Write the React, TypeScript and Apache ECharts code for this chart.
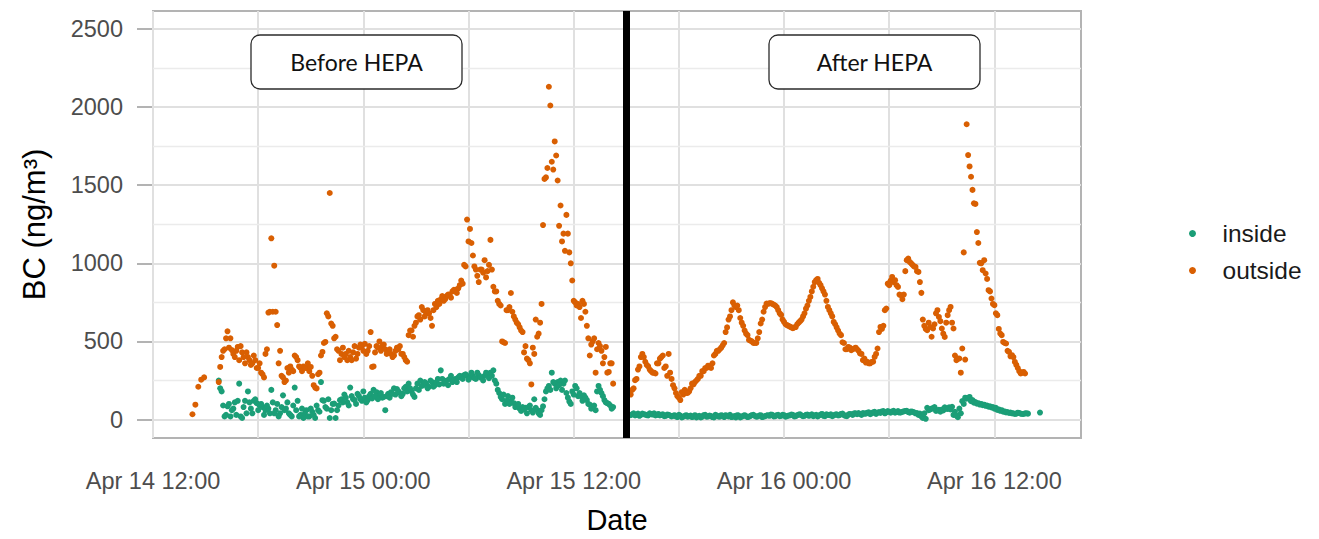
import React, { useEffect, useRef } from "react";
import * as echarts from "echarts";

// Time is expressed in hours after Apr 14 12:00; readings are every 10 minutes,
// with a second interleaved run of readings offset by 5 minutes.
const STEP_H = 1 / 6;
const HALF_STEP_H = 1 / 12;
const X_MAX_H = 52.94;
const X_TICKS = [0, 12, 24, 36, 48];
const X_TICK_LABELS = ["Apr 14 12:00", "Apr 15 00:00", "Apr 15 12:00", "Apr 16 00:00", "Apr 16 12:00"];
const X_MINOR = [6, 18, 30, 42];
const Y_TICKS = [0, 500, 1000, 1500, 2000, 2500];
const Y_MINOR = [250, 750, 1250, 1750, 2250];
const Y_MIN = -118;
const Y_MAX = 2615;
const HEPA_ON_H = 27; // Apr 15 15:00

// Outdoor black carbon (ng/m3)
const outsideStartH = 2.25;
const outsideStart = [34, 95, 210, 255, 270];

const outsideBeforeH = 3.75;
const outsideBefore = [
  240, 400, 450, 565, 520, 420, 440, 380, 430, 360,
  400, 350, 410, 330, 360, 290, 420, 685, 1160, 985,
  605, 440, 270, 250, 300, 320, 410, 380, 330, 340,
  330, 310, 280, 205, 290, 410, 490, 680, 1450, 600,
  530, 440, 420, 400, 380, 400, 430, 390, 460, 470,
  485, 440, 560, 340, 470, 500, 470, 450, 430, 420,
  410, 460, 470, 420, 380, 540, 570, 600, 660, 640,
  700, 680, 680, 600, 740, 760, 770, 760, 790, 800,
  820, 830, 840, 890, 990, 1280, 1220, 1050, 960, 880,
  960, 1020, 950, 1150, 850, 820, 740, 500, 490, 700,
  810, 660, 620, 590, 560, 470, 380, 225, 420, 530,
  620, 1245, 1550, 2130, 1650, 1780, 1530, 1370, 1190, 1310,
  1070, 890, 750, 740, 650, 740, 600, 410, 500, 300,
  490, 440, 400, 300, 360, 230,
];

const outsideBeforeMid = [
  337, 440, 520, 460, 445, 400, 465, 470, 400, 430,
  380, 360, 380, 330, 300, 270, 450, 690, 690, 690,
  360, 280, 240, 330, 340, 310, 400, 340, 310, 330,
  360, 337, 220, 199, 300, 433, 497, 660, 615, 520,
  450, 380, 460, 420, 440, 380, 470, 420, 480, 440,
  420, 470, 337, 430, 460, 440, 480, 420, 450, 400,
  440, 450, 420, 400, 370, 570, 530, 620, 668, 720,
  660, 700, 650, 700, 720, 740, 790, 770, 800, 780,
  830, 810, 860, 870, 980, 1140, 1130, 980, 920, 960,
  940, 910, 990, 960, 820, 760, 730, 495, 700, 720,
  690, 640, 610, 570, 430, 390, 360, 460, 640, 550,
  740, 1540, 1610, 2010, 1600, 1690, 1240, 1140, 1080, 1190,
  1000, 760, 730, 720, 760, 690, 520, 480, 520, 450,
  470, 360, 465, 305, 360,
];

const outsideAfterH = 27.25;
const outsideAfter = [
  160, 200, 260, 340, 420, 370, 340, 310, 300, 360,
  390, 410, 340, 420, 260, 200, 150, 125, 160, 170,
  180, 230, 240, 260, 280, 310, 330, 340, 360, 420,
  440, 460, 490, 590, 660, 750, 720, 700, 620, 570,
  540, 505, 490, 490, 560, 640, 720, 740, 745, 735,
  720, 680, 640, 610, 600, 590, 590, 610, 630, 660,
  710, 760, 820, 880, 900, 860, 820, 760, 700, 660,
  610, 570, 540, 490, 450, 460, 450, 460, 440, 420,
  390, 370, 360, 370, 420, 560, 580, 700, 870, 890,
  880, 860, 800, 770, 950, 1030, 1000, 980, 950, 880,
  640, 580, 620, 530, 610, 700, 630, 550, 620, 700,
  620, 410, 390, 300, 1070, 1890, 1620, 1470, 1380, 1130,
  1000, 1020, 900, 820, 740, 680, 580, 540, 490, 440,
  405, 400, 350, 310, 300, 295,
];

const outsideAfterMid = [
  190, 252, 320, 400, 400, 350, 320, 300, 295, 360,
  400, 330, 280, 300, 220, 170, 140, 175, 190, 170,
  200, 225, 250, 280, 310, 330, 345, 330, 410, 440,
  450, 475, 560, 640, 700, 730, 730, 650, 600, 550,
  510, 500, 490, 520, 615, 690, 743, 745, 740, 730,
  700, 670, 625, 604, 595, 585, 592, 620, 640, 680,
  730, 785, 850, 892, 875, 840, 800, 721, 680, 625,
  590, 551, 495, 450, 465, 444, 455, 450, 423, 380,
  365, 360, 369, 401, 455, 593, 600, 711, 860, 913,
  892, 849, 796, 800, 1020, 1009, 990, 977, 945, 811,
  600, 572, 593, 583, 680, 657, 583, 529, 668, 721,
  583, 380, 391, 455, 384, 1693, 1554, 1384, 1200, 1003,
  956, 935, 828, 775, 732, 668, 551, 497, 487, 433,
  412, 369, 330, 295, 305,
];

// Indoor black carbon (ng/m3)
const insideBeforeH = 3.75;
const insideBefore = [
  250, 180, 20, 85, 20, 70, 30, 230, 10, 120,
  180, 70, 120, 105, 90, 80, 60, 70, 190, 40,
  100, 40, 155, 70, 40, 20, 205, 120, 30, 10,
  60, 20, 50, 10, 60, 240, 120, 70, 10, 100,
  10, 90, 130, 160, 110, 205, 130, 100, 150, 120,
  140, 125, 165, 190, 175, 150, 140, 60, 165, 175,
  200, 195, 170, 165, 210, 230, 180, 145, 230, 250,
  220, 230, 210, 240, 220, 260, 315, 230, 250, 260,
  240, 260, 270, 275, 285, 280, 270, 280, 260, 285,
  270, 280, 290, 300, 315, 230, 170, 130, 100, 150,
  120, 105, 85, 70, 80, 75, 80, 60, 130, 60,
  30, 85, 180, 215, 300, 230, 240, 250, 230, 170,
  115, 180, 215, 150, 150, 155, 125, 95, 75, 60,
  215, 170, 125, 105, 90, 80,
];

const insideBeforeMid = [
  200, 90, 30, 100, 60, 110, 120, 20, 80, 40,
  110, 40, 130, 60, 100, 30, 90, 40, 110, 60,
  20, 80, 60, 110, 30, 90, 60, 20, 70, 40,
  20, 70, 30, 90, 50, 124, 80, 130, 60, 102,
  60, 124, 110, 140, 90, 150, 125, 165, 130, 180,
  110, 150, 135, 150, 130, 170, 145, 150, 140, 165,
  160, 180, 150, 200, 180, 200, 160, 200, 190, 215,
  240, 200, 250, 210, 240, 225, 260, 245, 220, 280,
  250, 240, 280, 260, 290, 255, 300, 265, 300, 270,
  250, 300, 265, 280, 250, 190, 145, 160, 120, 100,
  140, 80, 100, 55, 65, 40, 90, 45, 75, 40,
  60, 130, 200, 190, 240, 200, 220, 190, 250, 140,
  100, 160, 200, 170, 120, 140, 100, 70, 90, 180,
  190, 150, 110, 100, 70,
];

const insideAfterH = 27.25;
const insideAfter = [
  28, 40, 30, 24, 38, 32, 26, 36, 40, 30, 26,
  34, 24, 30, 20, 28, 16, 26, 18, 28, 22,
  16, 28, 20, 14, 28, 18, 26, 16, 30, 20,
  28, 16, 24, 30, 18, 14, 26, 18, 28, 16,
  24, 30, 18, 26, 16, 22, 28, 32, 20, 28,
  22, 30, 18, 26, 32, 20, 28, 34, 22, 30,
  24, 34, 26, 20, 32, 24, 34, 28, 22, 32,
  26, 36, 28, 22, 36, 30, 40, 42, 30, 38,
  44, 34, 46, 36, 48, 52, 40, 54, 44, 56,
  48, 45, 50, 55, 48, 52, 46, 42, 38, 10,
  5, 60, 70, 80, 60, 50, 58, 70, 78, 82,
  50, 15, 40, 100, 134, 145, 125, 112, 105, 100,
  95, 90, 85, 80, 75, 65, 60, 52, 48, 45,
  40, 38, 42, 36, 40, 38,
];

const insideAfterMid = [
  34, 26, 38, 30, 34, 28, 40, 32, 26, 36,
  30, 22, 32, 26, 24, 20, 30, 14, 24, 18,
  26, 20, 14, 24, 18, 30, 20, 22, 14, 26,
  18, 24, 28, 20, 16, 22, 28, 14, 24, 22,
  18, 28, 24, 20, 28, 18, 26, 24, 30, 22,
  30, 24, 28, 22, 26, 30, 22, 32, 26, 24,
  32, 28, 22, 30, 26, 36, 22, 30, 34, 26,
  34, 28, 38, 24, 32, 34, 40, 34, 36, 42,
  38, 46, 40, 50, 44, 42, 54, 46, 50, 52,
  44, 54, 46, 52, 56, 44, 50, 40, 30, 20,
  40, 75, 65, 72, 55, 62, 64, 78, 68, 65,
  30, 25, 70, 118, 140, 138, 118, 108, 102, 96,
  92, 88, 82, 78, 70, 62, 56, 50, 46, 42,
  40, 36, 44, 38, 36, 40,
];

const insideLateH = 50.6;
const insideLate = [45];

const COLOR_INSIDE = "#1b9e77";
const COLOR_OUTSIDE = "#d95f02";
const FONT = "Liberation Sans, Arial, Helvetica, sans-serif";

function toPoints(startH: number, values: number[]): number[][] {
  return values.map((v, i) => [startH + i * STEP_H, v]);
}

function tickLabel(v: number): string {
  const idx = X_TICKS.findIndex((t) => Math.abs(t - v) < 1e-6);
  return idx >= 0 ? X_TICK_LABELS[idx] : "";
}

const insidePoints = [
  ...toPoints(insideBeforeH, insideBefore),
  ...toPoints(insideBeforeH + HALF_STEP_H, insideBeforeMid),
  ...toPoints(insideAfterH, insideAfter),
  ...toPoints(insideAfterH + HALF_STEP_H, insideAfterMid),
  ...toPoints(insideLateH, insideLate),
];

const outsidePoints = [
  ...toPoints(outsideStartH, outsideStart),
  ...toPoints(outsideBeforeH, outsideBefore),
  ...toPoints(outsideBeforeH + HALF_STEP_H, outsideBeforeMid),
  ...toPoints(outsideAfterH, outsideAfter),
  ...toPoints(outsideAfterH + HALF_STEP_H, outsideAfterMid),
];

const majorGrid = { color: "#e0e0e0", width: 2, type: "solid" };
const minorGrid = { color: "#ebebeb", width: 1.3, type: "solid" };

const gridLines = [
  ...X_TICKS.map((v) => ({ xAxis: v, lineStyle: majorGrid })),
  ...X_MINOR.map((v) => ({ xAxis: v, lineStyle: majorGrid })),
  ...Y_TICKS.map((v) => ({ yAxis: v, lineStyle: majorGrid })),
  ...Y_MINOR.map((v) => ({ yAxis: v, lineStyle: minorGrid })),
];

function makeBox(x: number, label: string) {
  return [
    {
      type: "rect",
      z: 10,
      shape: { x, y: 35, width: 211, height: 54, r: 9 },
      style: { fill: "#ffffff", stroke: "#2b2b2b", lineWidth: 1.3 },
    },
    {
      type: "text",
      z: 11,
      x: x + 105.5,
      y: 62,
      style: {
        text: label,
        fontSize: 23,
        fontFamily: "Lato, Carlito, sans-serif",
        fill: "#111111",
        align: "center",
        verticalAlign: "middle",
      },
    },
  ];
}

export default function App() {
  const ref = useRef<HTMLDivElement>(null);

  useEffect(() => {
    if (!ref.current) return;
    const chart = echarts.init(ref.current, undefined, { renderer: "svg" });
    chart.setOption({
      animation: false,
      backgroundColor: "#ffffff",
      grid: {
        left: 153,
        right: 238,
        top: 11,
        bottom: 101,
        show: true,
        borderColor: "#b3b3b3",
        borderWidth: 2,
        backgroundColor: "transparent",
      },
      xAxis: {
        type: "value",
        min: 0,
        max: X_MAX_H,
        axisLine: { show: false },
        splitLine: { show: false },
        axisTick: {
          show: true,
          customValues: X_TICKS,
          length: 17,
          lineStyle: { color: "#b3b3b3", width: 2 },
        },
        axisLabel: {
          customValues: X_TICKS,
          formatter: tickLabel,
          margin: 31,
          fontSize: 23.5,
          color: "#4d4d4d",
          fontFamily: FONT,
        },
        name: "Date",
        nameLocation: "middle",
        nameGap: 67,
        nameTextStyle: { fontSize: 29, color: "#000000", fontFamily: FONT },
      },
      yAxis: {
        type: "value",
        min: Y_MIN,
        max: Y_MAX,
        axisLine: { show: false },
        splitLine: { show: false },
        axisTick: {
          show: true,
          customValues: Y_TICKS,
          length: 16,
          lineStyle: { color: "#b3b3b3", width: 2 },
        },
        axisLabel: {
          customValues: Y_TICKS,
          formatter: (v: number) => String(v),
          margin: 30,
          fontSize: 23.5,
          color: "#4d4d4d",
          fontFamily: FONT,
        },
        name: "BC (ng/m³)",
        nameLocation: "middle",
        nameGap: 103,
        nameTextStyle: { fontSize: 31, color: "#000000", fontFamily: FONT },
      },
      legend: {
        data: ["inside", "outside"],
        orient: "vertical",
        left: 1189,
        top: 221,
        padding: 0,
        itemWidth: 50,
        itemHeight: 7,
        itemGap: 12,
        icon: "circle",
        selectedMode: false,
        textStyle: { fontSize: 24.5, color: "#1a1a1a", fontFamily: FONT },
      },
      graphic: [...makeBox(251, "Before HEPA"), ...makeBox(769, "After HEPA")],
      series: [
        {
          name: "inside",
          type: "scatter",
          data: insidePoints,
          symbolSize: 6,
          itemStyle: { color: COLOR_INSIDE, opacity: 1 },
          z: 3,
          markLine: {
            silent: true,
            z: 1,
            symbol: ["none", "none"],
            label: { show: false },
            data: gridLines,
            animation: false,
          },
        },
        {
          name: "outside",
          type: "scatter",
          data: outsidePoints,
          symbolSize: 6,
          itemStyle: { color: COLOR_OUTSIDE, opacity: 1 },
          z: 3,
          markLine: {
            silent: true,
            z: 6,
            symbol: ["none", "none"],
            label: { show: false },
            lineStyle: { color: "#000000", width: 7, type: "solid" },
            data: [{ xAxis: HEPA_ON_H }],
            animation: false,
          },
        },
      ],
    });
    return () => chart.dispose();
  }, []);

  return (
    <div
      ref={ref}
      style={{ position: "absolute", left: 0, top: 0, width: 1319, height: 539, background: "#ffffff" }}
    />
  );
}
